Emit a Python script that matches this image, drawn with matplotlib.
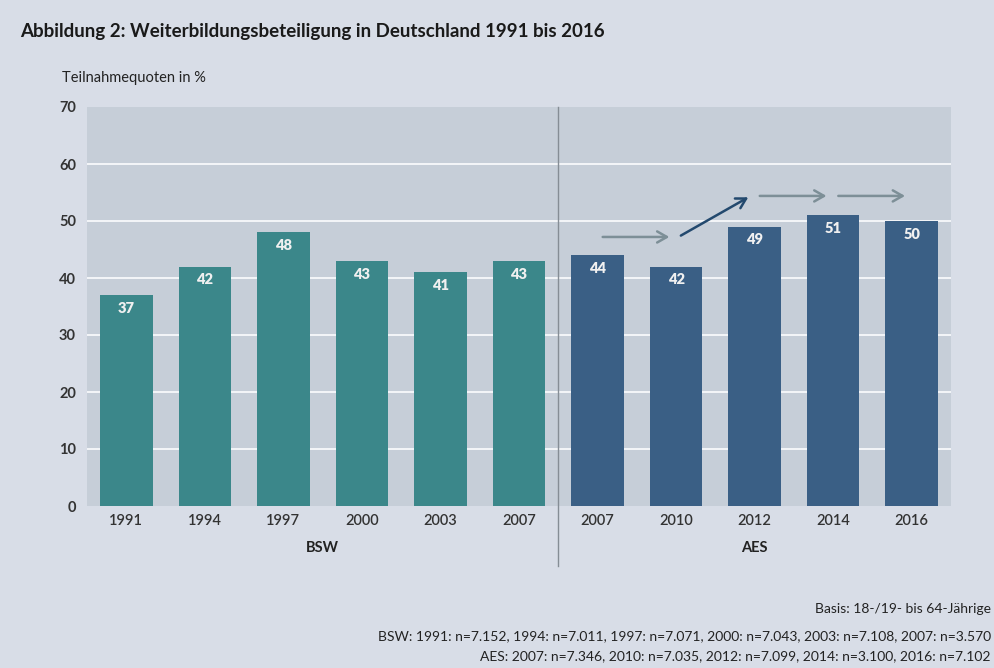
import matplotlib.pyplot as plt
import numpy as np

YEARS = ["1991", "1994", "1997", "2000", "2003", "2007",
         "2007", "2010", "2012", "2014", "2016"]
VALUES = [37, 42, 48, 43, 41, 43, 44, 42, 49, 51, 50]
SURVEY = ["BSW"] * 6 + ["AES"] * 5

# trend arrows: (from bar, to bar, start level, end level, kind)
ARROWS = [
    (6, 7, 47.2, 47.2, "flat"),
    (7, 8, 47.2, 54.4, "up"),
    (8, 9, 54.4, 54.4, "flat"),
    (9, 10, 54.4, 54.4, "flat"),
]

TITLE = "Abbildung 2: Weiterbildungsbeteiligung in Deutschland 1991 bis 2016"
YLABEL = "Teilnahmequoten in %"
NOTES = [
    "Basis: 18-/19- bis 64-Jährige",
    "BSW: 1991: n=7.152, 1994: n=7.011, 1997: n=7.071, 2000: n=7.043, 2003: n=7.108, 2007: n=3.570",
    "AES: 2007: n=7.346, 2010: n=7.035, 2012: n=7.099, 2014: n=3.100, 2016: n=7.102",
]

BG = "#d8dde7"
PLOT_BG = "#c6ced8"
COLORS = {"BSW": "#3b878a", "AES": "#3a5f85"}
ARROW_COLORS = {"flat": "#7d8f97", "up": "#23496e"}

plt.rcParams["font.family"] = ["Lato", "DejaVu Sans"]

fig = plt.figure(figsize=(9.94, 6.68), dpi=100, facecolor=BG)
ax = fig.add_axes([87 / 994, 1 - 506 / 668, 864 / 994, 399 / 668])
ax.set_facecolor(PLOT_BG)

x = np.arange(len(VALUES))
ax.bar(x, VALUES, width=0.67, color=[COLORS[s] for s in SURVEY], zorder=2)

for xi, v in zip(x, VALUES):
    ax.text(xi, v - 2.3, str(v), ha="center", va="center", color="#f0f0f0",
            fontsize=10.5, fontweight="heavy", zorder=3)

ax.set_xlim(-0.5, len(VALUES) - 0.5)
ax.set_ylim(0, 70)
ax.set_yticks(range(0, 71, 10))
ax.set_xticks(x)
ax.set_xticklabels(YEARS)
ax.tick_params(axis="both", length=0, labelsize=10.5, colors="#333333")
ax.tick_params(axis="y", pad=8)
ax.tick_params(axis="x", pad=6)
for t in ax.get_yticklabels():
    t.set_fontweight("bold")
for t in ax.get_xticklabels():
    t.set_fontweight("semibold")
for s in ax.spines.values():
    s.set_visible(False)
for y in range(10, 70, 10):
    ax.axhline(y, color="#f4f6f8", linewidth=1.4, zorder=1)

# divider between the two surveys
split = SURVEY.index("AES") - 0.5
ax.plot([split, split], [-10.6, 70], color="#858d95", linewidth=1.0,
        clip_on=False, zorder=4)

# survey group labels
for name in ["BSW", "AES"]:
    idx = [i for i, s in enumerate(SURVEY) if s == name]
    ax.text(np.mean(idx), -7.3, name, ha="center", va="center",
            fontsize=10.5, fontweight="bold", color="#222222")

for a, b, y0, y1, kind in ARROWS:
    ax.annotate("", xy=(b - 0.05, y1), xytext=(a + 0.03, y0),
                arrowprops=dict(arrowstyle="->,head_length=0.7,head_width=0.4",
                                color=ARROW_COLORS[kind], lw=1.8),
                zorder=5)

fig.text(20 / 994, 1 - 32 / 668, TITLE, fontsize=13.5, fontweight="bold",
         color="#1a1a1a", va="center", ha="left")
fig.text(62 / 994, 1 - 78 / 668, YLABEL, fontsize=10.5, color="#222222",
         va="center", ha="left")

for txt, ypx in zip(NOTES, [609, 636, 656]):
    fig.text(991 / 994, 1 - ypx / 668, txt, fontsize=10, color="#222222",
             ha="right", va="center")

fig.savefig("out.png", dpi=100, facecolor=BG)
